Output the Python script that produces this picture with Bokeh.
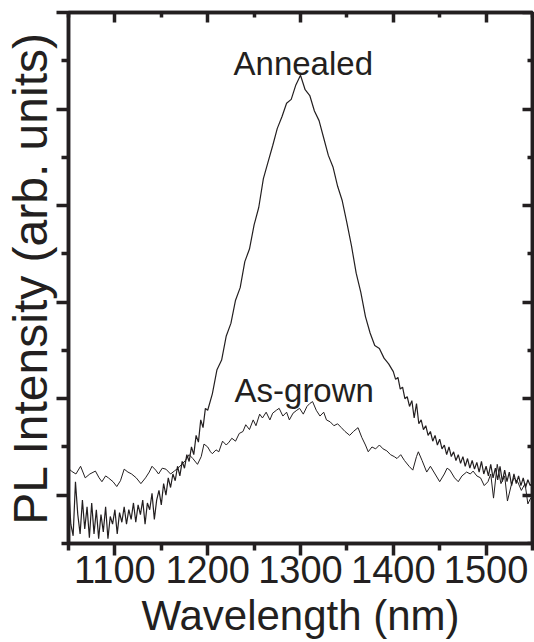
from bokeh.plotting import figure
from bokeh.models import LinearAxis, FixedTicker, Range1d
from bokeh.core.properties import value
from bokeh.embed import file_html
from bokeh.resources import INLINE

# ---------------- data ----------------
annealed_nm = [
    1050.0, 1052.5, 1055.0, 1057.5, 1060.0, 1062.5, 1065.0, 1067.5, 1070.0, 1072.5,
    1075.0, 1077.5, 1080.0, 1082.5, 1085.0, 1087.5, 1090.0, 1092.5, 1095.0, 1097.5,
    1100.0, 1102.5, 1105.0, 1107.5, 1110.0, 1112.5, 1115.0, 1117.5, 1120.0, 1122.5,
    1125.0, 1127.5, 1130.0, 1132.5, 1135.0, 1137.5, 1140.0, 1142.5, 1145.0, 1147.5,
    1150.0, 1152.5, 1155.0, 1157.5, 1160.0, 1162.5, 1165.0, 1167.5, 1170.0, 1172.5,
    1175.0, 1177.5, 1180.0, 1182.5, 1185.0, 1187.5, 1190.0, 1192.5, 1195.0, 1197.5,
    1200.0, 1205, 1210, 1215, 1220, 1225, 1230, 1235, 1240, 1245,
    1250, 1255, 1260, 1265, 1270, 1275, 1280, 1285, 1290, 1295,
    1300, 1305, 1310, 1315, 1320, 1325, 1330, 1335, 1340, 1345,
    1350, 1355, 1360, 1365, 1370, 1375, 1380, 1385, 1390, 1395,
    1400.0, 1402.5, 1405.0, 1407.5, 1410.0, 1412.5, 1415.0, 1417.5, 1420.0, 1422.5,
    1425.0, 1427.5, 1430.0, 1432.5, 1435.0, 1437.5, 1440.0, 1442.5, 1445.0, 1447.5,
    1450.0, 1452.5, 1455.0, 1457.5, 1460.0, 1462.5, 1465.0, 1467.5, 1470.0, 1472.5,
    1475.0, 1477.5, 1480.0, 1482.5, 1485.0, 1487.5, 1490.0, 1492.5, 1495.0, 1497.5,
    1500.0, 1502.5, 1505.0, 1507.5, 1510.0, 1512.5, 1515.0, 1517.5, 1520.0, 1522.5,
    1525.0, 1527.5, 1530.0, 1532.5, 1535.0, 1537.5, 1540.0, 1542.5, 1545.0, 1547.5,
    1550.0,
]
annealed_pl = [
    0.10, -0.30, -0.42, 0.14, -0.20, -0.40, -0.05, -0.35, -0.12, -0.44,
    -0.08, -0.40, -0.15, -0.45, -0.20, -0.38, -0.12, -0.45, -0.22, -0.30,
    -0.15, -0.40, -0.18, -0.28, -0.12, -0.30, -0.15, -0.25, -0.08, -0.28,
    -0.10, -0.20, -0.05, -0.30, -0.08, -0.15, 0.02, -0.25, -0.05, 0.05,
    -0.10, 0.12, 0.00, 0.18, 0.08, 0.22, 0.15, 0.30, 0.20, 0.35,
    0.28, 0.42, 0.35, 0.50, 0.42, 0.62, 0.55, 0.78, 0.70, 0.90,
    0.88, 1.05, 1.30, 1.40, 1.65, 1.78, 2.02, 2.15, 2.42, 2.55,
    2.80, 2.98, 3.28, 3.45, 3.62, 3.80, 3.92, 4.06, 4.10, 4.25,
    4.35, 4.20, 4.14, 3.98, 3.88, 3.70, 3.52, 3.40, 3.20, 3.05,
    2.82, 2.58, 2.30, 2.10, 1.85, 1.68, 1.55, 1.52, 1.42, 1.36,
    1.28, 1.20, 1.22, 1.10, 1.12, 1.00, 1.02, 0.92, 0.98, 0.80,
    0.95, 0.74, 0.78, 0.68, 0.72, 0.62, 0.66, 0.56, 0.62, 0.52,
    0.58, 0.48, 0.52, 0.42, 0.50, 0.40, 0.45, 0.36, 0.42, 0.33,
    0.40, 0.30, 0.38, 0.28, 0.36, 0.27, 0.34, 0.24, 0.35, 0.22,
    0.30, 0.20, 0.32, 0.18, 0.28, 0.16, 0.30, 0.14, 0.26, 0.14,
    0.24, 0.10, 0.22, 0.12, 0.20, 0.10, 0.18, 0.08, 0.16, 0.10,
    0.12,
]

asgrown_nm = [
    1050, 1053, 1058, 1063, 1068, 1073, 1079, 1083, 1086, 1090,
    1093, 1098, 1102, 1106, 1110, 1114, 1118, 1123, 1128, 1133,
    1137, 1140, 1144, 1147, 1151, 1155, 1160, 1164, 1168, 1172,
    1176, 1180, 1184, 1189, 1193, 1196, 1200, 1203, 1205, 1209,
    1212, 1216, 1220, 1223, 1226, 1230, 1234, 1238, 1241, 1245,
    1249, 1252, 1256, 1259, 1263, 1267, 1270, 1274, 1277, 1281,
    1285, 1288, 1292, 1296, 1299, 1303, 1307, 1310, 1313, 1317,
    1321, 1325, 1328, 1332, 1336, 1340, 1344, 1348, 1353, 1357,
    1362, 1366, 1370, 1373, 1377, 1381, 1385, 1389, 1393, 1397,
    1401, 1404, 1408, 1412, 1417, 1421, 1425, 1427, 1431, 1436,
    1440, 1445, 1450, 1455, 1458, 1461, 1466, 1470, 1474, 1479,
    1483, 1486, 1490, 1494, 1498, 1502, 1505, 1508, 1512, 1516,
    1520, 1523, 1527, 1530, 1534, 1538, 1542, 1545, 1548, 1550,
]
asgrown_pl = [
    0.28, 0.25, 0.22, 0.30, 0.18, 0.22, 0.25, 0.18, 0.14, 0.20,
    0.18, 0.14, 0.09, 0.15, 0.27, 0.24, 0.22, 0.18, 0.12, 0.18,
    0.24, 0.30, 0.26, 0.22, 0.28, 0.27, 0.22, 0.25, 0.28, 0.32,
    0.36, 0.42, 0.38, 0.32, 0.40, 0.53, 0.50, 0.45, 0.43, 0.47,
    0.45, 0.56, 0.52, 0.55, 0.59, 0.56, 0.64, 0.66, 0.73, 0.68,
    0.78, 0.72, 0.84, 0.80, 0.86, 0.78, 0.85, 0.88, 0.90, 0.82,
    0.86, 0.78, 0.85, 0.88, 0.90, 0.84, 0.92, 0.95, 0.97, 0.88,
    0.82, 0.86, 0.78, 0.76, 0.72, 0.74, 0.70, 0.66, 0.62, 0.66,
    0.70, 0.60, 0.52, 0.45, 0.50, 0.48, 0.52, 0.48, 0.46, 0.42,
    0.40, 0.38, 0.42, 0.36, 0.30, 0.26, 0.40, 0.45, 0.36, 0.24,
    0.30, 0.22, 0.14, 0.22, 0.28, 0.26, 0.18, 0.14, 0.20, 0.24,
    0.22, 0.25, 0.20, 0.18, 0.10, 0.14, 0.22, -0.03, 0.32, 0.12,
    0.20, -0.06, 0.10, 0.18, 0.14, 0.05, 0.12, -0.09, -0.03, -0.05,
]

x_major_ticks = [1100, 1200, 1300, 1400, 1500]
x_minor_ticks = [1050, 1150, 1250, 1350, 1450, 1550]
y_major_ticks = [0, 1, 2, 3, 4, 5]
y_minor_ticks = [-0.5, 0.5, 1.5, 2.5, 3.5, 4.5]
x_start, x_end = 1050, 1550
y_start, y_end = -0.5, 5.0

labels = ["Annealed", "As-grown"]
label_x = [1303, 1304]
label_y = [4.47, 1.085]

x_title = "Wavelength (nm)"
y_title = "PL Intensity (arb. units)"

# ---------------- figure ----------------
INK = "#231f20"
FONT = "Liberation Sans"

p = figure(width=534, height=642, output_backend="svg", toolbar_location=None,
           x_range=Range1d(x_start, x_end), y_range=Range1d(y_start, y_end),
           min_border_left=60, min_border_right=2, min_border_top=12, min_border_bottom=99)
p.grid.visible = False
p.background_fill_color = "white"
p.border_fill_color = "white"
p.outline_line_color = INK
p.outline_line_width = 3.5

p.line(annealed_nm, annealed_pl, line_color=INK, line_width=1.2)
p.line(asgrown_nm, asgrown_pl, line_color=INK, line_width=1.0)

p.text(x=label_x, y=label_y, text=labels, text_align="center", text_baseline="alphabetic",
       text_font=value(FONT), text_font_size="33px", text_color=INK)

def style(ax, ticker, tin, tout, mtin, mtout):
    ax.ticker = ticker
    ax.axis_line_color = INK
    ax.axis_line_width = 3.5
    ax.major_tick_line_color = INK
    ax.major_tick_line_width = 3.5
    ax.minor_tick_line_color = INK
    ax.minor_tick_line_width = 3.5
    ax.major_tick_in = tin
    ax.major_tick_out = tout
    ax.minor_tick_in = mtin
    ax.minor_tick_out = mtout

def hide_labels(ax, ticks):
    ax.major_label_overrides = {t: "" for t in ticks}
    ax.major_label_text_font_size = "0px"
    ax.major_label_text_color = None
    ax.major_label_standoff = 0

bx = p.xaxis[0]
style(bx, FixedTicker(ticks=x_major_ticks, minor_ticks=x_minor_ticks), 0, 12, 0, 7)
bx.major_label_text_font = FONT
bx.major_label_text_font_size = "38px"
bx.major_label_text_color = INK
bx.major_label_standoff = 0
bx.axis_label = x_title
bx.axis_label_text_font = FONT
bx.axis_label_text_font_size = "42px"
bx.axis_label_text_font_style = "normal"
bx.axis_label_text_color = INK
bx.axis_label_standoff = 6

ly = p.yaxis[0]
style(ly, FixedTicker(ticks=y_major_ticks, minor_ticks=y_minor_ticks), 0, 12, 0, 7)
hide_labels(ly, y_major_ticks)
ly.axis_label = y_title
ly.axis_label_text_font = FONT
ly.axis_label_text_font_size = "48px"
ly.axis_label_text_font_style = "normal"
ly.axis_label_text_color = INK
ly.axis_label_standoff = 0

# right axis: pinned to the frame edge so that it takes no border space
ra = LinearAxis(fixed_location=x_end)
style(ra, FixedTicker(ticks=y_major_ticks, minor_ticks=y_minor_ticks), 10, 0, 5, 0)
hide_labels(ra, y_major_ticks)
p.add_layout(ra, "right")

ta = LinearAxis()
style(ta, FixedTicker(ticks=x_major_ticks, minor_ticks=x_minor_ticks), 10, 0, 5, 0)
hide_labels(ta, x_major_ticks)
p.add_layout(ta, "above")

open("out.html", "w").write(file_html(p, INLINE))
